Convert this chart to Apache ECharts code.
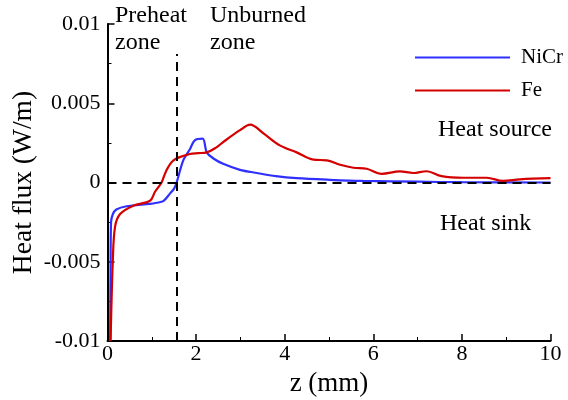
<!DOCTYPE html>
<html>
<head>
<meta charset="utf-8">
<script src="https://cdn.jsdelivr.net/npm/echarts@6/dist/echarts.min.js"></script>
<style>html,body{margin:0;padding:0;background:#fff;}#c{width:568px;height:400px;}</style>
</head>
<body>
<div id="c"></div>
<script>
const seriesNames = ['NiCr', 'Fe'];
const nicrZ = [0.06,0.07,0.08,0.12,0.2,0.43,0.96,1.11,1.26,1.41,1.5,1.56,1.71,1.86,1.97,2.15,2.24,2.4,2.61,2.99,3.37,3.8,4.27,5.02,5.77,7,8,10];
const nicrQ = [-0.01,-0.005,-0.0025,-0.002,-0.0017,-0.0015,-0.00135,-0.00128,-0.00118,-0.0007,-0.0004,0,0.0014,0.0021,0.00266,0.00277,0.0019,0.0015,0.00118,0.0008,0.0006,0.0004,0.00027,0.00017,0.0001,0.00005,0.00002,0];
const feZ = [0.07,0.12,0.17,0.28,0.58,0.96,1.07,1.22,1.32,1.49,1.86,2.05,2.24,2.45,2.61,2.99,3.22,3.52,3.89,4.27,4.65,4.95,5.25,5.55,5.85,6.19,6.6,6.9,7.2,7.54,8.03,8.56,8.93,9.31,10];
const feQ = [-0.01,-0.0049,-0.0028,-0.002,-0.00146,-0.00115,-0.0006,0,0.0007,0.0014,0.0018,0.00185,0.0019,0.0022,0.00255,0.0033,0.00365,0.0031,0.00234,0.0019,0.00144,0.0014,0.00112,0.00093,0.00087,0.00055,0.0007,0.0006,0.00071,0.0004,0.0003,0.0003,0.0001,0.0002,0.00027];
const xTicks = [0, 2, 4, 6, 8, 10];
const yTicks = [-0.01, -0.005, 0, 0.005, 0.01];
const zoneBoundary = 1.56;
const zoneLineTop = 0.0081;

const font = 'Liberation Serif';
const chart = echarts.init(document.getElementById('c'), null, {renderer: 'canvas'});
const axisCommon = {
  axisLine: {show: true, onZero: false, lineStyle: {color: '#000', width: 2}},
  axisTick: {show: true, inside: true, length: 7, lineStyle: {color: '#000', width: 1.5}},
  minorTick: {show: true, splitNumber: 2, length: 4, lineStyle: {color: '#000', width: 1}},
  splitLine: {show: false}
};
chart.setOption({
  animation: false,
  backgroundColor: '#fff',
  grid: {left: 107.5, right: 17.5, top: 24, bottom: 59, containLabel: false, outerBoundsMode: 'none'},
  xAxis: Object.assign({}, axisCommon, {
    type: 'value', min: xTicks[0], max: xTicks[xTicks.length - 1], interval: 2,
    name: 'z (mm)', nameLocation: 'middle', nameGap: 29, nameMoveOverlap: false,
    nameTextStyle: {color: '#000', fontFamily: font, fontSize: 27},
    axisLabel: {color: '#000', fontFamily: font, fontSize: 22, margin: 2}
  }),
  yAxis: Object.assign({}, axisCommon, {
    type: 'value', min: yTicks[0], max: yTicks[yTicks.length - 1], interval: 0.005,
    name: 'Heat flux (W/m)', nameLocation: 'middle', nameGap: 70, nameMoveOverlap: false,
    nameTextStyle: {color: '#000', fontFamily: font, fontSize: 27.5},
    axisLabel: {color: '#000', fontFamily: font, fontSize: 22, margin: 7}
  }),
  legend: {
    data: seriesNames, orient: 'vertical', left: 414, top: 47,
    itemWidth: 95, itemHeight: 14, itemGap: 12,
    itemStyle: {opacity: 0},
    textStyle: {color: '#000', fontFamily: font, fontSize: 21, padding: [0,0,0,6]},
    padding: 0
  },
  series: [
    {
      name: 'NiCr', type: 'line', symbol: 'none', smooth: 0.3,
      lineStyle: {color: '#2f2fff', width: 2.2}, itemStyle: {color: '#2f2fff'},
      data: nicrZ.map((z, i) => [z, nicrQ[i]]), z: 2
    },
    {
      name: 'Fe', type: 'line', symbol: 'none', smooth: 0.35,
      lineStyle: {color: '#d40000', width: 2.2}, itemStyle: {color: '#d40000'},
      data: feZ.map((z, i) => [z, feQ[i]]), z: 3
    },
    {
      name: 'guides', type: 'line', data: [], z: 5,
      markLine: {
        silent: true, symbol: 'none', label: {show: false},
        lineStyle: {color: '#000', type: [9, 6], width: 2},
        data: [
          [{coord: [xTicks[0], 0]}, {coord: [xTicks[xTicks.length - 1], 0]}],
          [{coord: [zoneBoundary, yTicks[0]]}, {coord: [zoneBoundary, zoneLineTop]}]
        ]
      }
    }
  ],
  graphic: [
    {type: 'text', left: 115, top: 2, style: {text: 'Preheat\nzone', font: '24px "Liberation Serif"', lineHeight: 27, fill: '#000'}},
    {type: 'text', left: 210, top: 2, style: {text: 'Unburned\nzone', font: '24px "Liberation Serif"', lineHeight: 27, fill: '#000'}},
    {type: 'text', left: 438, top: 118, style: {text: 'Heat source', font: '24px "Liberation Serif"', fill: '#000'}},
    {type: 'text', left: 440, top: 212, style: {text: 'Heat sink', font: '24px "Liberation Serif"', fill: '#000'}}
  ]
});
</script>
</body>
</html>
